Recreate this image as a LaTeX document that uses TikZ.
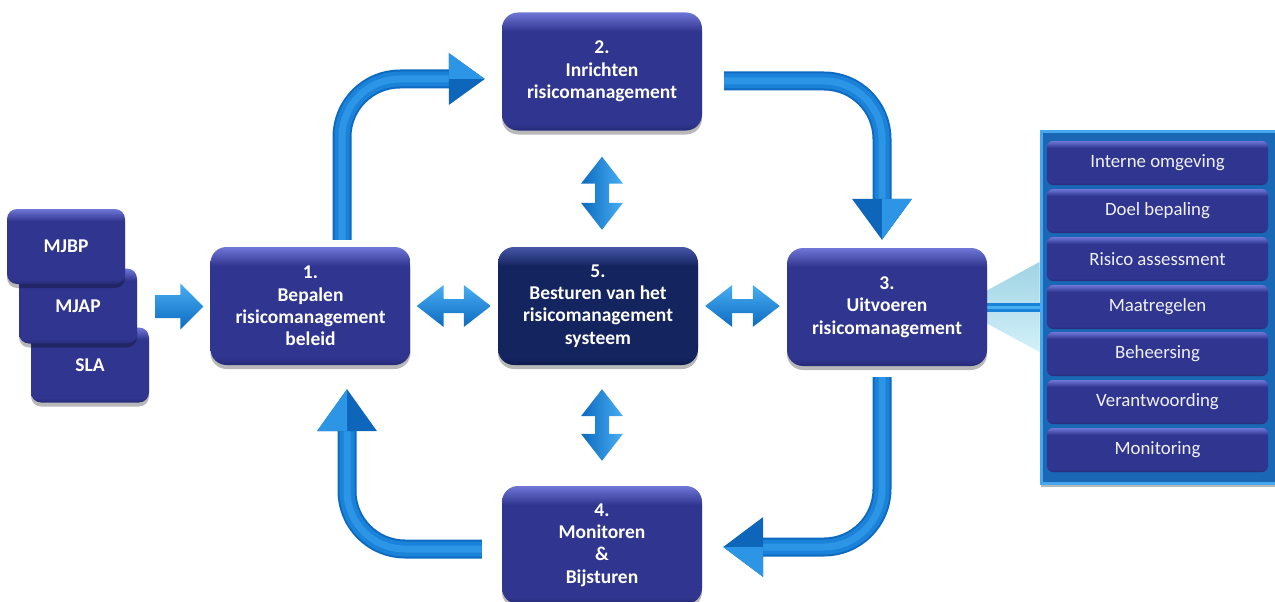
\documentclass[tikz,border=0pt]{standalone}
\usepackage{fontspec}
\setmainfont{Carlito}
\usetikzlibrary{calc,shadows}

% box colours
\definecolor{btop}{HTML}{6F76D6}
\definecolor{bmain}{HTML}{30368F}
\definecolor{bbot}{HTML}{262A76}
\definecolor{ctop}{HTML}{4656A8}
\definecolor{cmain}{HTML}{14245F}
\definecolor{cbot}{HTML}{0E1A4C}
% arrow colours
\definecolor{tubedark}{HTML}{0D6AC0}
\definecolor{tubemid}{HTML}{1A82D8}
\definecolor{tubelight}{HTML}{2C95E6}
\definecolor{dbllight}{HTML}{48AEF2}
\definecolor{headdark}{HTML}{0D66BA}
\definecolor{headlight}{HTML}{2D95E6}
% panel colours
\definecolor{panelfill}{HTML}{1967B5}
\definecolor{paneledge}{HTML}{46A7EE}
\definecolor{calltop}{HTML}{9FD3E3}
\definecolor{callbot}{HTML}{D3F1FA}

\pgfdeclarelayer{back}
\pgfdeclarelayer{under}
\pgfsetlayers{back,under,main}

\pgfdeclareverticalshading{boxsh}{100bp}{color(0bp)=(bbot); color(25bp)=(bbot); color(28bp)=(bmain); color(67bp)=(bmain); color(75bp)=(btop); color(100bp)=(btop)}
\pgfdeclareverticalshading{coresh}{100bp}{color(0bp)=(cbot); color(25bp)=(cbot); color(28bp)=(cmain); color(67bp)=(cmain); color(75bp)=(ctop); color(100bp)=(ctop)}

\newcommand\boxfont{\fontsize{19.5}{22.3}\selectfont\bfseries}
\newcommand\itemfont{\fontsize{18.8}{21}\selectfont}

\tikzset{
  softshadow/.style={drop shadow={shadow xshift=0pt, shadow yshift=-4pt, opacity=0.28, fill=black}},
  stage/.style={shade, shading=boxsh, rounded corners=16pt, minimum width=200pt,
    minimum height=118pt, align=center, text=white, font=\boxfont, softshadow},
  corestage/.style={stage, shading=coresh},
  inputbox/.style={shade, shading=boxsh, rounded corners=10pt, minimum width=118pt,
    minimum height=75pt, text=white, font=\boxfont, softshadow},
  itembox/.style={shade, shading=boxsh, rounded corners=6pt, minimum width=221pt,
    minimum height=44pt, text=white!94!blue, font=\itemfont},
  panelframe/.style={fill=panelfill, draw=paneledge, line width=3pt,
    minimum width=250pt, minimum height=352pt, softshadow},
  tube/.style={line width=19pt, draw=tubedark, rounded corners=58pt,
    postaction={draw=tubemid, line width=15pt},
    postaction={draw=tubelight, line width=7pt}},
  hdblsh/.style={top color=dbllight, middle color=tubemid, bottom color=tubedark},
  vdblsh/.style={left color=tubedark, middle color=tubemid, right color=dbllight},
}

% bent arrow: start, corner, head base, tip, half width of the head
\newcommand\bentarrow[5]{%
  \draw[tube] (#1) -- (#2) -- (#3);
  \fill[headdark] (#4) -- ($(#3)!#5!90:(#4)$) -- ($(#3)!#5!-90:(#4)$) -- cycle;
  \fill[headlight] (#4) -- ($(#3)!#5!90:(#4)$) -- (#3) -- cycle;
}
% horizontal double arrow between two points at the same height
\newcommand\hdbl[2]{%
  \shade[hdblsh] (#1) -- ($(#1)+(27,-21)$) -- ($(#1)+(27,-7)$) -- ($(#2)+(-27,-7)$)
    -- ($(#2)+(-27,-21)$) -- (#2) -- ($(#2)+(-27,21)$) -- ($(#2)+(-27,7)$)
    -- ($(#1)+(27,7)$) -- ($(#1)+(27,21)$) -- cycle;
}
% vertical double arrow, top point then bottom point
\newcommand\vdbl[2]{%
  \shade[vdblsh] (#1) -- ($(#1)+(21,27)$) -- ($(#1)+(7,27)$) -- ($(#2)+(7,-27)$)
    -- ($(#2)+(21,-27)$) -- (#2) -- ($(#2)+(-21,-27)$) -- ($(#2)+(-7,-27)$)
    -- ($(#1)+(-7,27)$) -- ($(#1)+(-21,27)$) -- cycle;
}

\begin{document}
\begin{tikzpicture}[x=1pt,y=-1pt]
  \begin{pgfonlayer}{back}
    \fill[white] (0,0) rectangle (1275,602);
  \end{pgfonlayer}
  \useasboundingbox (0,0) rectangle (1275,602);

  % cycle stages
  \node[stage] (b1) at (310.5,306) {1.\\Bepalen\\risicomanagement\\beleid};
  \node[stage] (b2) at (602,71.5) {2.\\Inrichten\\risicomanagement};
  \node[stage] (b3) at (887,307) {3.\\Uitvoeren\\risicomanagement};
  \node[stage] (b4) at (602,545) {4.\\Monitoren\\\&\\Bijsturen};
  \node[corestage] (b5) at (598,306) {5.\\Besturen van het\\risicomanagement\\systeem};

  % inputs on the left
  \node[inputbox] (sla)  at (90,365)   {SLA};
  \node[inputbox] (mjap) at (78,306)   {MJAP};
  \node[inputbox] (mjbp) at (66,246.5) {MJBP};

  % component panel on the right
  \node[panelframe] (panel) at (1166,307) {};
  \begin{pgfonlayer}{under}
    \shade[top color=calltop, bottom color=callbot]
      ($(b3.east)+(-3,-15)$) -- ($(panel.west)+(0,-45)$) -- ($(panel.west)+(0,45)$)
      -- ($(b3.east)+(-3,15)$) -- cycle;
    \draw[line width=9pt, draw=tubemid, postaction={draw=dbllight, line width=3pt}]
      ($(b3.east)+(-3,0)$) -- (panel.west);
  \end{pgfonlayer}

  \node[itembox] (i1) at (1157.5,163) {Interne omgeving};
  \node[itembox] (i2) at (1157.5,211) {Doel bepaling};
  \node[itembox] (i3) at (1157.5,259) {Risico assessment};
  \node[itembox] (i4) at (1157.5,307) {Maatregelen};
  \node[itembox] (i5) at (1157.5,354) {Beheersing};
  \node[itembox] (i6) at (1157.5,402) {Verantwoording};
  \node[itembox] (i7) at (1157.5,450) {Monitoring};

  % input arrow into stage 1
  \coordinate (it) at ($(b1.west)+(-7,0.5)$);
  \shade[hdblsh] (it) -- ($(it)+(-23,-23)$) -- ($(it)+(-23,-11.5)$) -- ($(it)+(-48,-11.5)$)
    -- ($(it)+(-48,11.5)$) -- ($(it)+(-23,11.5)$) -- ($(it)+(-23,23)$) -- cycle;

  % cycle arrows
  \coordinate (s12) at ($(b1.north)+(31.5,-7)$);
  \coordinate (t12) at ($(b2.west)+(-17,7.5)$);
  \coordinate (h12) at ($(t12)+(-36,0)$);
  \bentarrow{s12}{s12 |- t12}{h12}{t12}{26pt}

  \coordinate (s23) at ($(b2.east)+(22,9.5)$);
  \coordinate (t23) at ($(b3.north)+(-5,-8)$);
  \coordinate (h23) at ($(t23)+(0,-41)$);
  \bentarrow{s23}{s23 -| t23}{h23}{t23}{30pt}

  \coordinate (s34) at ($(b3.south)+(-5,11)$);
  \coordinate (t34) at ($(b4.east)+(21,2)$);
  \coordinate (h34) at ($(t34)+(40,0)$);
  \bentarrow{s34}{s34 |- t34}{h34}{t34}{30pt}

  \coordinate (s41) at ($(b4.west)+(-20,4)$);
  \coordinate (t41) at ($(b1.south)+(36.5,24)$);
  \coordinate (h41) at ($(t41)+(0,42)$);
  \bentarrow{s41}{s41 -| t41}{h41}{t41}{30pt}

  % exchanges with stage 5
  \coordinate (d15a) at ($(b1.east)+(6,0)$);
  \coordinate (d15b) at ($(b5.west)+(-7,0)$);
  \hdbl{d15a}{d15b}
  \coordinate (d53a) at ($(b5.east)+(7,0)$);
  \coordinate (d53b) at ($(b3.west |- b5.east)+(-7,0)$);
  \hdbl{d53a}{d53b}
  \coordinate (d25a) at ($(b2.south)+(0,26)$);
  \coordinate (d25b) at ($(b2.south |- b5.north)+(0,-17)$);
  \vdbl{d25a}{d25b}
  \coordinate (d54a) at ($(b4.north |- b5.south)+(0,24)$);
  \coordinate (d54b) at ($(b4.north)+(0,-25)$);
  \vdbl{d54a}{d54b}
\end{tikzpicture}
\end{document}
